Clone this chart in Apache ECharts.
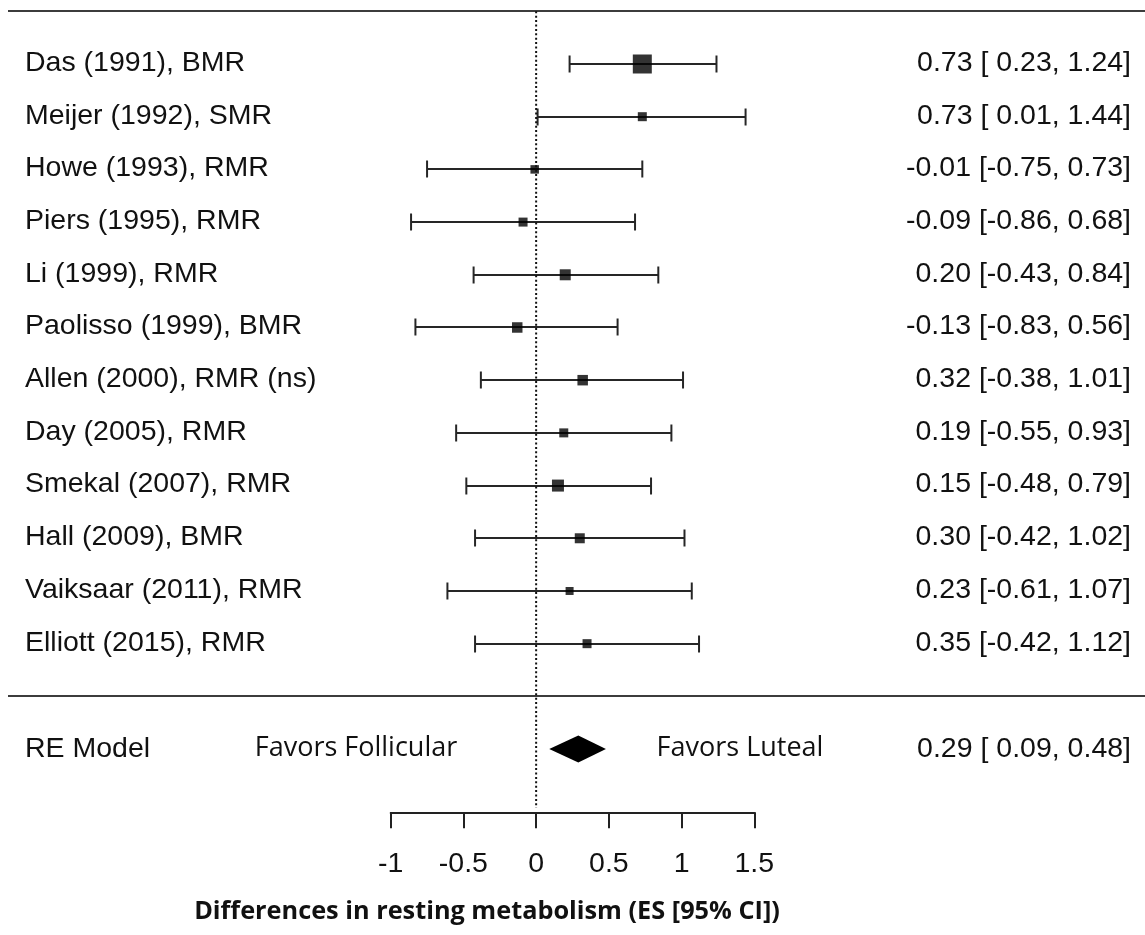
<!DOCTYPE html>
<html><head><meta charset="utf-8">
<script src="https://cdn.jsdelivr.net/npm/echarts@6/dist/echarts.min.js"></script>
<style>html,body{margin:0;padding:0;background:#fff}#c{width:1145px;height:935px}</style>
</head><body><div id="c"></div>
<script>
// ---- data ----
const studies = ['Das (1991), BMR','Meijer (1992), SMR','Howe (1993), RMR','Piers (1995), RMR','Li (1999), RMR','Paolisso (1999), BMR','Allen (2000), RMR (ns)','Day (2005), RMR','Smekal (2007), RMR','Hall (2009), BMR','Vaiksaar (2011), RMR','Elliott (2015), RMR'];
const estimates = [0.73, 0.73, -0.01, -0.09, 0.20, -0.13, 0.32, 0.19, 0.15, 0.30, 0.23, 0.35];
const lowerCI   = [0.23, 0.01, -0.75, -0.86, -0.43, -0.83, -0.38, -0.55, -0.48, -0.42, -0.61, -0.42];
const upperCI   = [1.24, 1.44, 0.73, 0.68, 0.84, 0.56, 1.01, 0.93, 0.79, 1.02, 1.07, 1.12];
const studyWeights = [19, 9, 8.5, 9, 11, 10.5, 10.5, 9, 12, 10, 8, 9];
const pooledLabel = 'RE Model';
const pooledEstimate = 0.29, pooledLower = 0.09, pooledUpper = 0.48;
const tickValues = [-1, -0.5, 0, 0.5, 1, 1.5];
const tickLabels = ['-1', '-0.5', '0', '0.5', '1', '1.5'];
const favorLeft = 'Favors Follicular';
const favorRight = 'Favors Luteal';
const axisTitle = 'Differences in resting metabolism (ES [95% CI])';

// ---- derived ----
const k = studies.length;
const studyRows = studies.map((_, i) => k - i);
const pooledRow = -1, topRow = k + 1, sepRow = 0;
const yMin = -2.2, yMax = topRow;
function f2(v){ return v.toFixed(2); }
function ciText(e, lo, hi){ return f2(e) + ' [' + (lo < 0 ? '' : ' ') + f2(lo) + ', ' + f2(hi) + ']'; }
const studyCI = studies.map((_, i) => ciText(estimates[i], lowerCI[i], upperCI[i]));
const pooledCI = ciText(pooledEstimate, pooledLower, pooledUpper);

const ARIAL = '"Liberation Sans", Arial, sans-serif';
const LABEL_FONT = '28.5px ' + ARIAL;
const INK = '#111';
const LINE = '#262626';

const chart = echarts.init(document.getElementById('c'), null, {renderer: 'canvas'});

function txt(x, y, s, font, align, color){
  return {type: 'text', x: x, y: y,
    style: {text: s, x: 0, y: 0, font: font, fill: color || INK, align: align, verticalAlign: 'middle'}};
}

const option = {
  animation: false,
  backgroundColor: '#fff',
  grid: {left: 390.7, top: 11.3, width: 363.6, height: 801, containLabel: false},
  xAxis: {type: 'value', min: -1, max: 1.5, interval: 0.5, position: 'bottom',
    axisLine: {show: true, onZero: false, lineStyle: {color: '#222', width: 2}},
    axisTick: {show: true, inside: false, length: 16, lineStyle: {color: '#222', width: 2}},
    axisLabel: {show: false}, splitLine: {show: false}},
  yAxis: {type: 'value', min: yMin, max: yMax, show: false},
  series: [
    // reference dotted line at 0
    {type: 'line', data: [[0, topRow], [0, yMin + 0.08]], symbol: 'none', silent: true,
      lineStyle: {color: '#111', width: 2, type: [2, 2.4]}},
    // frame lines: top and separator
    {type: 'custom', silent: true, clip: false,
      data: [[topRow], [sepRow]],
      renderItem: function(params, api){
        const y = Math.round(api.coord([0, api.value(0)])[1]);
        return {type: 'line', shape: {x1: 8, y1: y, x2: 1145, y2: y},
          style: {stroke: '#3c3c3c', lineWidth: 2}};
      }},
    // CI whiskers
    {type: 'custom', silent: true, clip: false,
      data: studies.map((_, i) => [studyRows[i], lowerCI[i], upperCI[i]]),
      renderItem: function(params, api){
        const r = api.value(0);
        const a = api.coord([api.value(1), r]);
        const b = api.coord([api.value(2), r]);
        const y = Math.round(a[1]);
        const h = 8.5;
        const st = {stroke: LINE, lineWidth: 2};
        return {type: 'group', children: [
          {type: 'line', shape: {x1: a[0], y1: y, x2: b[0], y2: y}, style: st},
          {type: 'line', shape: {x1: a[0], y1: y - h, x2: a[0], y2: y + h}, style: st},
          {type: 'line', shape: {x1: b[0], y1: y - h, x2: b[0], y2: y + h}, style: st}
        ]};
      }},
    // point estimates (squares sized by weight)
    {type: 'scatter', symbol: 'rect', silent: true,
      data: studies.map((_, i) => [estimates[i], studyRows[i], studyWeights[i]]),
      symbolSize: function(v){ return v[2]; },
      itemStyle: {color: '#000'}},
    // pooled diamond
    {type: 'custom', silent: true, clip: false,
      data: [[pooledRow, pooledEstimate, pooledLower, pooledUpper]],
      renderItem: function(params, api){
        const r = api.value(0);
        const c = api.coord([api.value(1), r]);
        const l = api.coord([api.value(2), r]);
        const u = api.coord([api.value(3), r]);
        const hh = 13.5;
        return {type: 'polygon', shape: {points: [[l[0], c[1]], [c[0], c[1] - hh], [u[0], c[1]], [c[0], c[1] + hh]]},
          style: {fill: '#000'}};
      }},
    // study labels and CI text
    {type: 'custom', silent: true, clip: false,
      data: studies.map((_, i) => [studyRows[i]]),
      renderItem: function(params, api){
        const i = params.dataIndex;
        const y = api.coord([0, api.value(0)])[1] - 1;
        return {type: 'group', children: [
          txt(25, y, studies[i], LABEL_FONT, 'left'),
          txt(1131, y, studyCI[i], LABEL_FONT, 'right')
        ]};
      }},
    // pooled row texts
    {type: 'custom', silent: true, clip: false,
      data: [[pooledRow]],
      renderItem: function(params, api){
        const y = api.coord([0, api.value(0)])[1];
        const F = '27px "Open Sans", sans-serif';
        return {type: 'group', children: [
          txt(25, y + 0.5, pooledLabel, LABEL_FONT, 'left'),
          txt(1131, y + 0.5, pooledCI, LABEL_FONT, 'right'),
          txt(356, y - 1, favorLeft, F, 'center'),
          txt(740, y - 1, favorRight, F, 'center')
        ]};
      }},
    // tick labels and axis title
    {type: 'custom', silent: true, clip: false,
      data: tickValues.map(v => [v]),
      renderItem: function(params, api){
        const p = api.coord([api.value(0), yMin]);
        const kids = [txt(p[0], p[1] + 52, tickLabels[params.dataIndex], LABEL_FONT, 'center')];
        if (params.dataIndex === 0) {
          kids.push(txt(487, p[1] + 99, axisTitle, 'bold 25.3px "Open Sans", sans-serif', 'center'));
        }
        return {type: 'group', children: kids};
      }}
  ]
};
chart.setOption(option);
</script>
</body></html>
